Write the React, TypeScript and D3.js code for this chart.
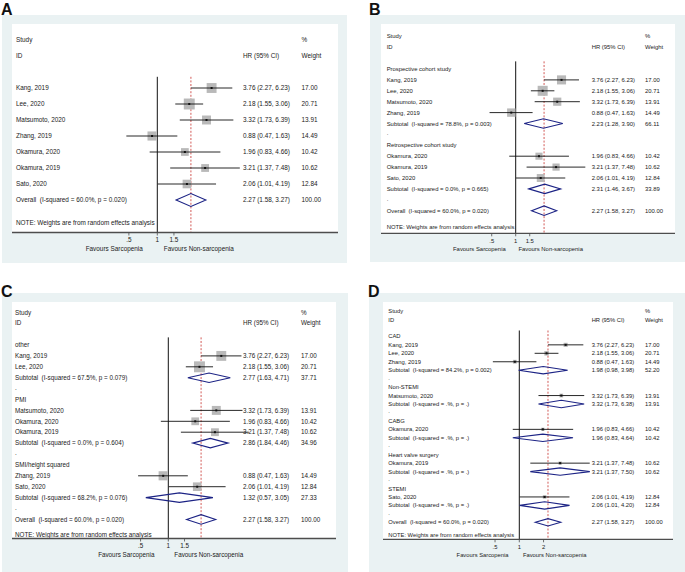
import { select, scaleLog, scaleLinear } from "d3";
import { useEffect, useRef } from "react";

// study level estimates (HR, 95% CI, random effects weight)
const studyNames = [
  "Kang, 2019",
  "Lee, 2020",
  "Matsumoto, 2020",
  "Zhang, 2019",
  "Okamura, 2020",
  "Okamura, 2019",
  "Sato, 2020",
];
const studyHR = [3.76, 2.18, 3.32, 0.88, 1.96, 3.21, 2.06];
const studyLow = [2.27, 1.55, 1.73, 0.47, 0.83, 1.37, 1.01];
const studyHigh = [6.23, 3.06, 6.39, 1.63, 4.66, 7.48, 4.19];
const studyWeight = [17.0, 20.71, 13.91, 14.49, 10.42, 10.62, 12.84];

const overallEst = [2.27, 1.58, 3.27];
const overallWeight = 100;
const overallHet = "I-squared = 60.0%, p = 0.020";

// B: study design
const designGroups = ["Prospective cohort study", "Retrospective cohort study"];
const designMembers = [[0, 1, 2, 3], [4, 5, 6]];
const designSubtotal = [[2.23, 1.28, 3.9], [2.31, 1.46, 3.67]];
const designSubWeight = [66.11, 33.89];
const designHet = ["I-squared = 78.8%, p = 0.003", "I-squared = 0.0%, p = 0.665"];

// C: sarcopenia measure
const measureGroups = ["other", "PMI", "SMI/height squared"];
const measureMembers = [[0, 1], [2, 4, 5], [3, 6]];
const measureSubtotal = [[2.77, 1.63, 4.71], [2.86, 1.84, 4.46], [1.32, 0.57, 3.05]];
const measureSubWeight = [37.71, 34.96, 27.33];
const measureHet = [
  "I-squared = 67.5%, p = 0.079",
  "I-squared = 0.0%, p = 0.604",
  "I-squared = 68.2%, p = 0.076",
];

// D: population
const popGroups = ["CAD", "Non-STEMI", "CABG", "Heart valve surgery", "STEMI"];
const popMembers = [[0, 1, 3], [2], [4], [5], [6]];
const popSubtotal = [
  [1.98, 0.98, 3.98],
  [3.32, 1.73, 6.38],
  [1.96, 0.83, 4.64],
  [3.21, 1.37, 7.5],
  [2.06, 1.01, 4.2],
];
const popSubWeight = [52.2, 13.91, 10.42, 10.62, 12.84];
const popHet = [
  "I-squared = 84.2%, p = 0.002",
  "I-squared = .%, p = .",
  "I-squared = .%, p = .",
  "I-squared = .%, p = .",
  "I-squared = .%, p = .",
];

const ticksABC = [0.5, 1, 1.5];
const ticksD = [0.5, 1, 2];
const tickText = (v: number) => (v < 1 ? String(v).replace(/^0/, "") : String(v));

type Row =
  | { kind: "study"; i: number }
  | { kind: "group"; label: string }
  | { kind: "sub"; est: number[]; w: number; het: string }
  | { kind: "dot" }
  | { kind: "overall" };

const buildRows = (
  groups?: string[],
  members?: number[][],
  subs?: number[][],
  subW?: number[],
  het?: string[]
): Row[] => {
  const rows: Row[] = [];
  if (!groups) {
    studyNames.forEach((_, i) => rows.push({ kind: "study", i }));
  } else {
    groups.forEach((g, gi) => {
      rows.push({ kind: "group", label: g });
      members![gi].forEach((i) => rows.push({ kind: "study", i }));
      rows.push({ kind: "sub", est: subs![gi], w: subW![gi], het: het![gi] });
      rows.push({ kind: "dot" });
    });
  }
  rows.push({ kind: "overall" });
  return rows;
};

const panels = [
  {
    letter: "A", lx: 1, ly: 14.6,
    gx: 2, gy: 15, gw: 345, gh: 248,
    px: 12, py: 24, pw: 326, axisY: 232.5,
    nullX: 157.3, k: 41, first: 88, step: 16, font: 6.4,
    labelX: 16, hrX: 243, wX: 301.5, boxK: 2.4, dH: 13,
    ticks: ticksABC, rows: buildRows(),
  },
  {
    letter: "B", lx: 369, ly: 14.6,
    gx: 370, gy: 15, gw: 315, gh: 247,
    px: 381, py: 24, pw: 294, axisY: 233.3,
    nullX: 515.7, k: 34.6, first: 69, step: 10.9, font: 5.9,
    labelX: 386.7, hrX: 591.7, wX: 645, boxK: 2.2, dH: 9.5,
    ticks: ticksABC,
    rows: buildRows(designGroups, designMembers, designSubtotal, designSubWeight, designHet),
  },
  {
    letter: "C", lx: 1, ly: 297,
    gx: 2, gy: 293, gw: 346, gh: 279,
    px: 12, py: 302, pw: 324, axisY: 538.5,
    nullX: 168.3, k: 40, first: 345, step: 10.9, font: 6.3,
    labelX: 15, hrX: 243, wX: 301, boxK: 2.4, dH: 9.5,
    ticks: ticksABC,
    rows: buildRows(measureGroups, measureMembers, measureSubtotal, measureSubWeight, measureHet),
  },
  {
    letter: "D", lx: 368, ly: 297,
    gx: 369, gy: 293, gw: 316, gh: 279,
    px: 383, py: 302, pw: 290, axisY: 539.3,
    nullX: 519.3, k: 35, first: 336.4, step: 8.45, font: 5.8,
    labelX: 388.3, hrX: 591.7, wX: 645, boxK: 1.0, dH: 7.4,
    ticks: ticksD,
    rows: buildRows(popGroups, popMembers, popSubtotal, popSubWeight, popHet),
  },
];

const fmt = (e: number[]) => `${e[0].toFixed(2)} (${e[1].toFixed(2)}, ${e[2].toFixed(2)})`;

export default function App() {
  const svgRef = useRef<SVGSVGElement | null>(null);

  useEffect(() => {
    if (!svgRef.current) return;
    const svg = select(svgRef.current);
    svg.selectAll("*").remove();

    panels.forEach((p) => {
      const g = svg.append("g").style("font-family", "'Liberation Sans', Arial, sans-serif");
      const ln2 = Math.log(2);
      const x = scaleLog()
        .domain([0.5, 2])
        .range([p.nullX - p.k * ln2, p.nullX + p.k * ln2]);
      const y = scaleLinear().domain([0, 1]).range([p.first, p.first + p.step]);

      // background regions
      g.append("rect").attr("x", p.gx).attr("y", p.gy).attr("width", p.gw).attr("height", p.gh).attr("fill", "#eaf2f3");
      g.append("rect").attr("x", p.px).attr("y", p.py).attr("width", p.pw).attr("height", p.axisY - p.py).attr("fill", "white");

      g.append("text")
        .attr("x", p.lx)
        .attr("y", p.ly)
        .attr("font-size", 16)
        .attr("font-weight", "bold")
        .attr("fill", "#111")
        .text(p.letter);

      const txt = (tx: number, ty: number, s: string, anchor = "start") =>
        g.append("text")
          .attr("x", tx)
          .attr("y", ty)
          .attr("dy", "0.35em")
          .attr("font-size", p.font)
          .attr("fill", "#1a1a1a")
          .attr("text-anchor", anchor)
          .style("white-space", "pre")
          .text(s);

      // header
      txt(p.labelX, y(-3), "Study");
      txt(p.labelX, y(-2), "ID");
      txt(p.hrX, y(-2), "HR (95% CI)");
      txt(p.wX, y(-3), "%");
      txt(p.wX, y(-2), "Weight");

      const top = y(0) - 0.7 * p.step;
      const overallIdx = p.rows.length - 1;

      // null line and overall effect line
      g.append("line")
        .attr("x1", x(1)).attr("x2", x(1))
        .attr("y1", top).attr("y2", p.axisY)
        .attr("stroke", "#111").attr("stroke-width", 1);
      g.append("line")
        .attr("x1", x(overallEst[0])).attr("x2", x(overallEst[0]))
        .attr("y1", top).attr("y2", p.axisY)
        .attr("stroke", "#c8302c").attr("stroke-width", 0.8)
        .attr("stroke-dasharray", "2,1.6");

      const diamond = (e: number[], yy: number) =>
        g.append("polygon")
          .attr("points", [
            [x(e[1]), yy],
            [x(e[0]), yy - p.dH / 2],
            [x(e[2]), yy],
            [x(e[0]), yy + p.dH / 2],
          ].map((d) => d.join(",")).join(" "))
          .attr("fill", "none")
          .attr("stroke", "#1c2385")
          .attr("stroke-width", 1.1);

      p.rows.forEach((r, ri) => {
        const yy = y(ri);
        if (r.kind === "group") txt(p.labelX, yy, r.label);
        if (r.kind === "dot") txt(p.labelX, yy - 1, ".");
        if (r.kind === "study") {
          const i = r.i;
          const s = p.boxK * Math.sqrt(studyWeight[i]);
          g.append("rect")
            .attr("x", x(studyHR[i]) - s / 2).attr("y", yy - s / 2)
            .attr("width", s).attr("height", s)
            .attr("fill", "#b9b9b9");
          g.append("line")
            .attr("x1", x(studyLow[i])).attr("x2", x(studyHigh[i]))
            .attr("y1", yy).attr("y2", yy)
            .attr("stroke", "#111").attr("stroke-width", 0.9);
          g.append("rect")
            .attr("x", x(studyHR[i]) - 1).attr("y", yy - 1)
            .attr("width", 2).attr("height", 2)
            .attr("fill", "#111");
          txt(p.labelX, yy, studyNames[i]);
          txt(p.hrX, yy, fmt([studyHR[i], studyLow[i], studyHigh[i]]));
          txt(p.wX, yy, studyWeight[i].toFixed(2));
        }
        if (r.kind === "sub") {
          diamond(r.est, yy);
          txt(p.labelX, yy, `Subtotal  (${r.het})`);
          txt(p.hrX, yy, fmt(r.est));
          txt(p.wX, yy, r.w.toFixed(2));
        }
        if (r.kind === "overall") {
          diamond(overallEst, yy);
          txt(p.labelX, yy, `Overall  (${overallHet})`);
          txt(p.hrX, yy, fmt(overallEst));
          txt(p.wX, yy, overallWeight.toFixed(2));
        }
      });

      txt(p.labelX, y(overallIdx + 1.45), "NOTE: Weights are from random effects analysis");

      // x axis
      g.append("line")
        .attr("x1", p.px).attr("x2", p.px + p.pw)
        .attr("y1", p.axisY).attr("y2", p.axisY)
        .attr("stroke", "#4d4d4d").attr("stroke-width", 1.3);
      p.ticks.forEach((t) => {
        g.append("line")
          .attr("x1", x(t)).attr("x2", x(t))
          .attr("y1", p.axisY).attr("y2", p.axisY + 3)
          .attr("stroke", "#4d4d4d").attr("stroke-width", 0.8);
        txt(x(t), p.axisY + 7.5, tickText(t), "middle");
      });
      txt(x(0.35), p.axisY + 16, "Favours Sarcopenia", "middle");
      txt(x(2.75), p.axisY + 16, "Favours Non-sarcopenia", "middle");
    });
  }, []);

  return (
    <svg
      ref={svgRef}
      width={685}
      height={572}
      style={{ position: "absolute", left: 0, top: 0, background: "white" }}
    ></svg>
  );
}
